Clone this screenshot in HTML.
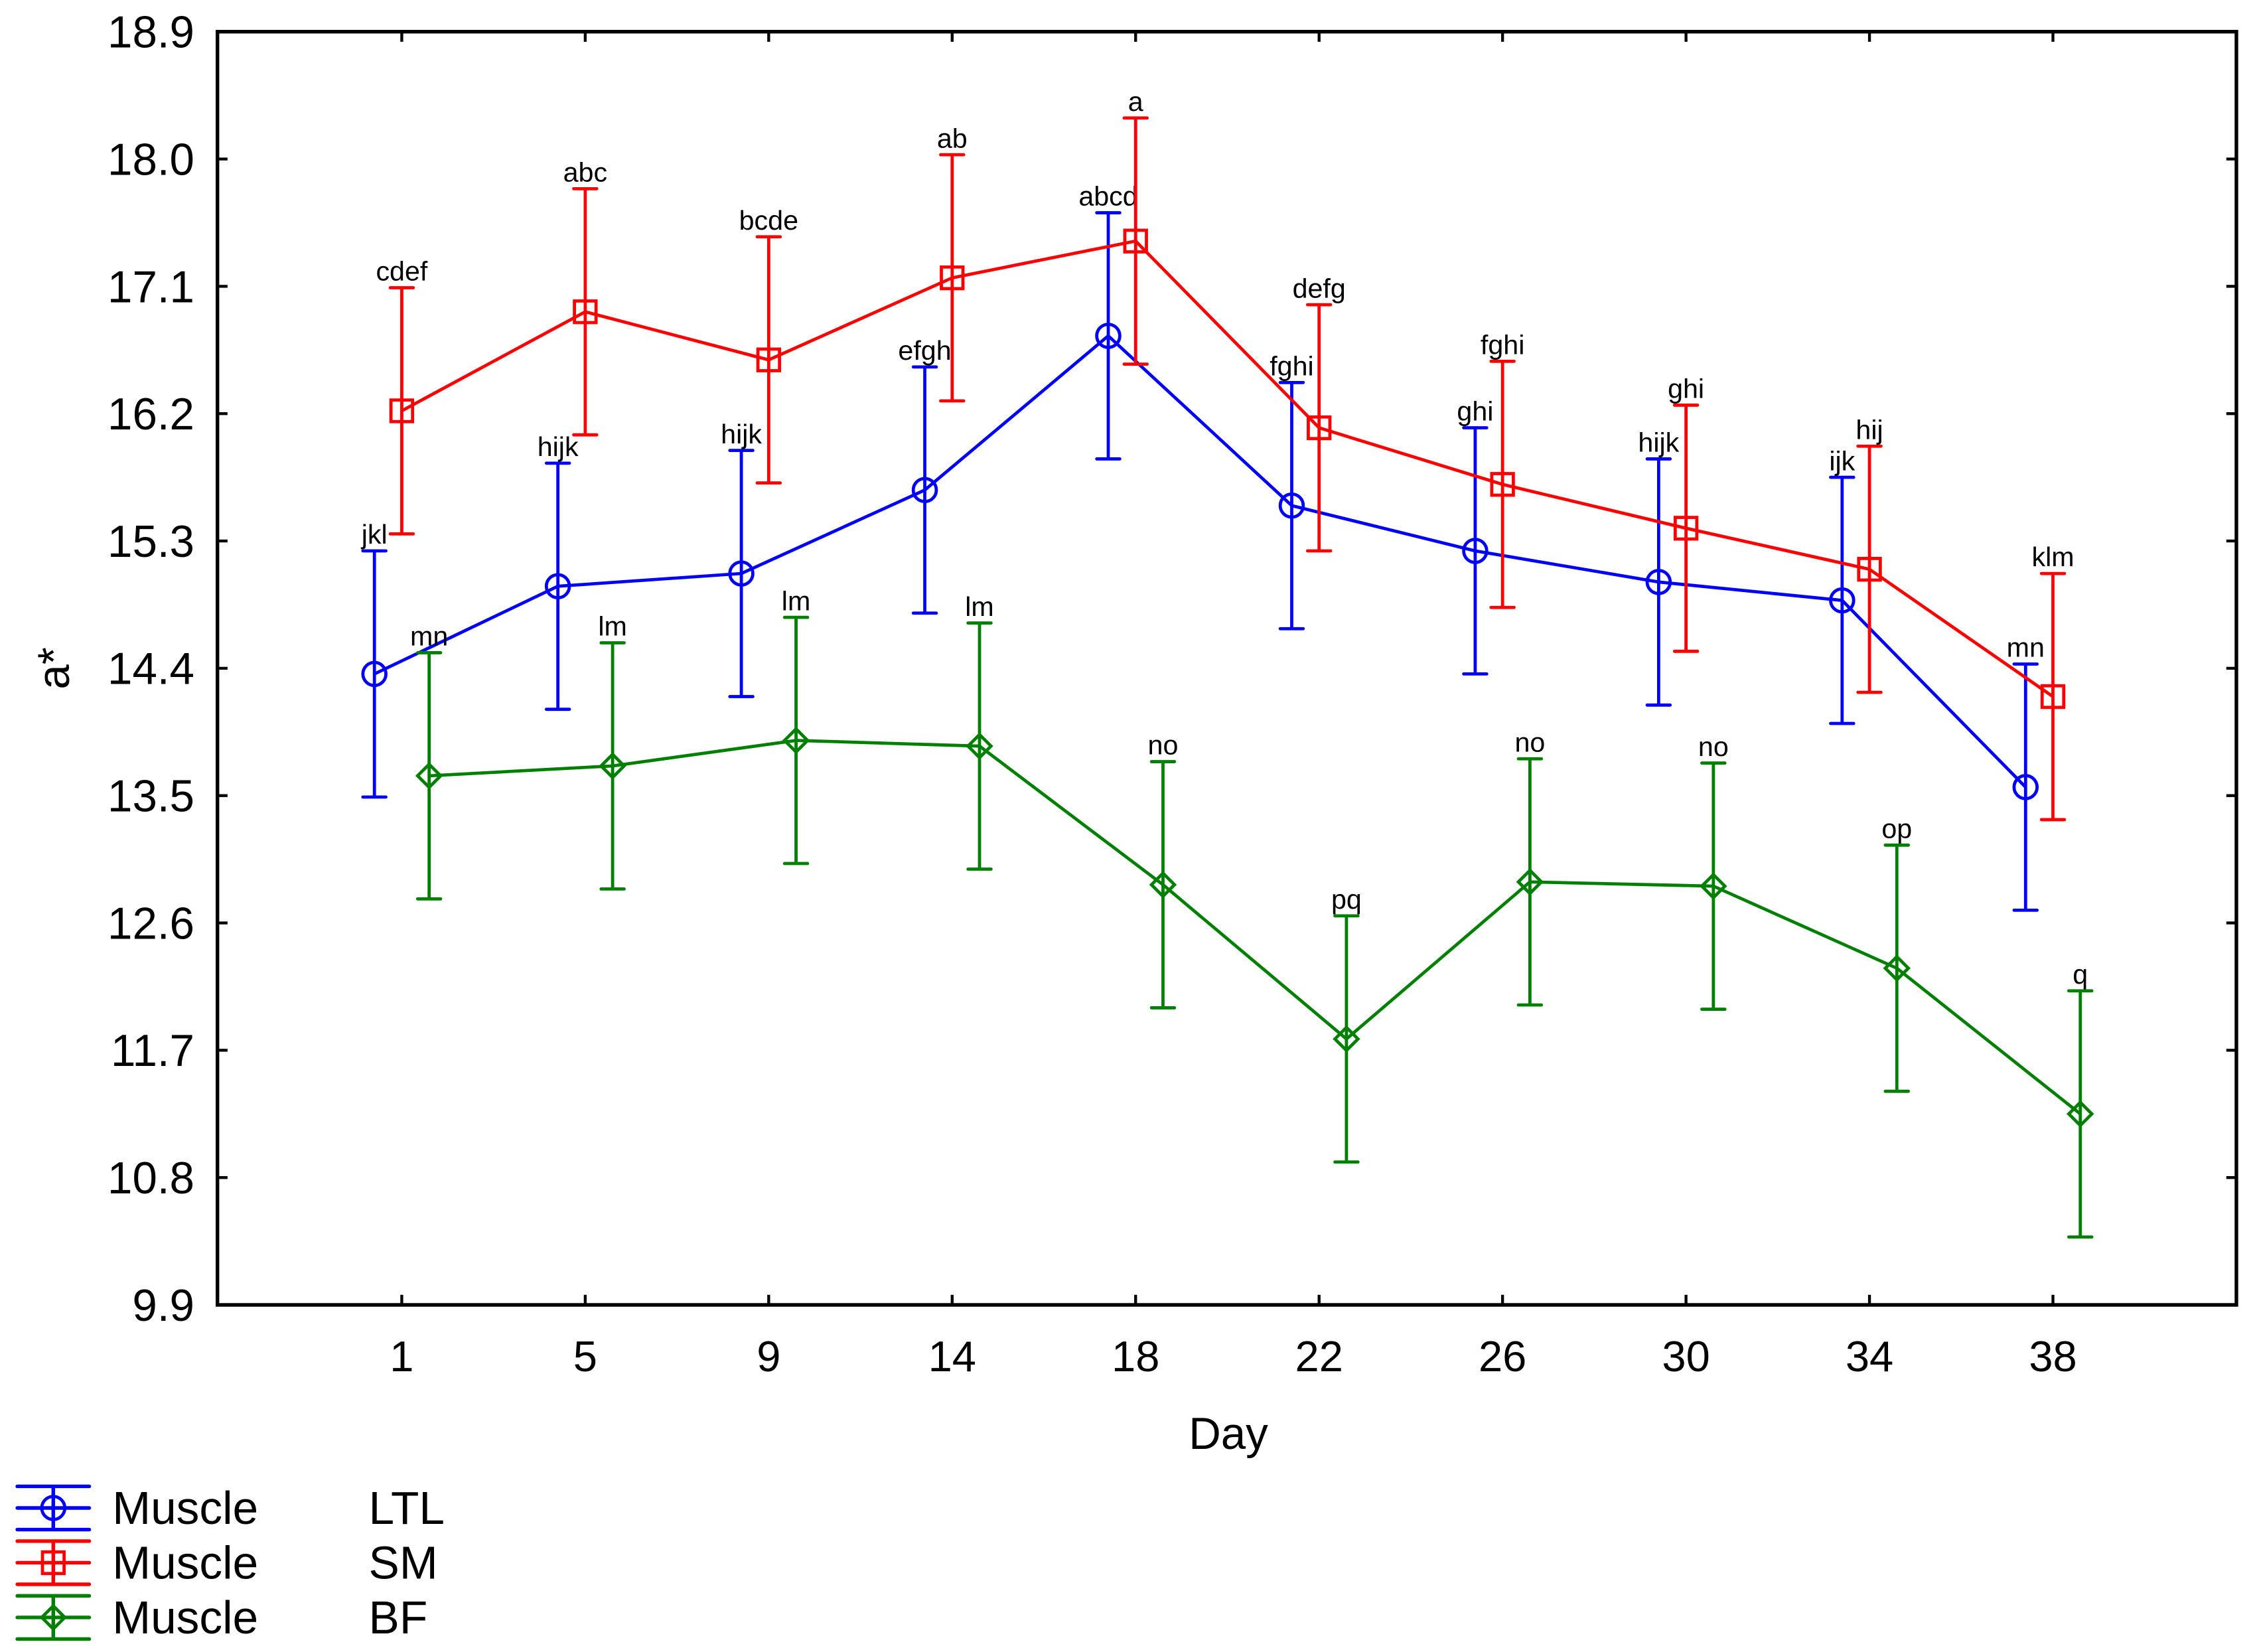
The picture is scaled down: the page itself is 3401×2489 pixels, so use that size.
<!DOCTYPE html>
<html><head><meta charset="utf-8"><style>
html,body{margin:0;padding:0;background:#fff}
svg{display:block}
text{font-family:"Liberation Sans",Arial,sans-serif;fill:#000}
</style></head><body>
<svg id="chart" width="3401" height="2489" viewBox="0 0 1567.3 1147" preserveAspectRatio="none" xmlns="http://www.w3.org/2000/svg">
<rect x="0" y="0" width="1567.3" height="1147" fill="#fff"/>
<g id="axes"></g>
<g id="series"></g>
<g id="legend"></g>
</svg>
<script>
const days = ["1","5","9","14","18","22","26","30","34","38"];
const yTicks = [9.9,10.8,11.7,12.6,13.5,14.4,15.3,16.2,17.1,18.0,18.9];
const ltlValues = [14.36,14.98,15.07,15.66,16.75,15.55,15.23,15.01,14.88,13.56];
const smValues = [16.22,16.92,16.58,17.16,17.42,16.10,15.70,15.39,15.10,14.20];
const bfValues = [13.64,13.71,13.89,13.85,12.87,11.78,12.89,12.86,12.28,11.25];
const ltlErr = [0.87,0.87,0.87,0.87,0.87,0.87,0.87,0.87,0.87,0.87];
const smErr = [0.87,0.87,0.87,0.87,0.87,0.87,0.87,0.87,0.87,0.87];
const bfErr = [0.87,0.87,0.87,0.87,0.87,0.87,0.87,0.87,0.87,0.87];
const ltlLetters = ["jkl","hijk","hijk","efgh","abcd","fghi","ghi","hijk","ijk","mn"];
const smLetters = ["cdef","abc","bcde","ab","a","defg","fghi","ghi","hij","klm"];
const bfLetters = ["mn","lm","lm","lm","no","pq","no","no","op","q"];

const NS="http://www.w3.org/2000/svg";
const L=151,R=1553,T=22,B=906;
const yMin=9.9,yMax=18.9;
function yPos(v){return B-(v-yMin)/(yMax-yMin)*(B-T);}
function xPos(i){return 279+127.4*i;}
function mk(tag,attrs,parent){const e=document.createElementNS(NS,tag);for(const k in attrs)e.setAttribute(k,attrs[k]);parent.appendChild(e);return e;}
const axes=document.getElementById('axes');
const frame=mk('rect',{x:L,y:T,width:R-L,height:B-T,fill:'none',stroke:'#000','stroke-width':2.5},axes);


yTicks.forEach(v=>{
  const y=yPos(v);
  const t1=mk('line',{x1:L,y1:y,x2:L+7,y2:y,stroke:'#000','stroke-width':2},axes);
  
  
  const t2=mk('line',{x1:R-7,y1:y,x2:R,y2:y,stroke:'#000','stroke-width':2},axes);
  
  
  const tx=mk('text',{x:135,y:y+11,'text-anchor':'end','font-size':31},axes);
  tx.textContent=v.toFixed(1);
  
  
});
days.forEach((d,i)=>{
  const x=xPos(i);
  const t1=mk('line',{x1:x,y1:B,x2:x,y2:B-7,stroke:'#000','stroke-width':2},axes);
  
  
  const t2=mk('line',{x1:x,y1:T,x2:x,y2:T+7,stroke:'#000','stroke-width':2},axes);
  
  
  const tx=mk('text',{x:x,y:952,'text-anchor':'middle','font-size':30},axes);
  tx.textContent=d;
  
  
});
const xt=mk('text',{x:853,y:1006,'text-anchor':'middle','font-size':31},axes);
xt.textContent='Day';


const yt=mk('text',{x:0,y:0,'text-anchor':'middle','font-size':31,transform:'translate(48,464) rotate(-90)'},axes);
yt.textContent='a*';



function marker(type,x,y,color,g){
  let m;
  if(type==='circle') m=mk('circle',{cx:x,cy:y,r:8,fill:'none',stroke:color,'stroke-width':2.2},g);
  else if(type==='square') m=mk('rect',{x:x-7.5,y:y-7.5,width:15,height:15,fill:'none',stroke:color,'stroke-width':2.2},g);
  else m=mk('polygon',{points:`${x},${y-8} ${x+8},${y} ${x},${y+8} ${x-8},${y}`,fill:'none',stroke:color,'stroke-width':2.2},g);
  return m;
}
const seriesDefs=[
  {name:'ltl',vals:ltlValues,err:ltlErr,lab:ltlLetters,color:'#0000ff',off:-19,m:'circle'},
  {name:'sm',vals:smValues,err:smErr,lab:smLetters,color:'#ff0000',off:0,m:'square'},
  {name:'bf',vals:bfValues,err:bfErr,lab:bfLetters,color:'#008000',off:19,m:'diamond'}
];
const sg=document.getElementById('series');
seriesDefs.forEach(s=>{
  const g=mk('g',{},sg);
  
  
  const pts=s.vals.map((v,i)=>(xPos(i)+s.off)+','+yPos(v)).join(' ');
  const pl=mk('polyline',{points:pts,fill:'none',stroke:s.color,'stroke-width':2.2},g);
  
  
  s.vals.forEach((v,i)=>{
    const x=xPos(i)+s.off, y=yPos(v), yu=yPos(v+s.err[i]), yl=yPos(v-s.err[i]);
    const eb=mk('path',{d:`M${x},${yu}V${yl}M${x-8},${yu}H${x+8}M${x-8},${yl}H${x+8}`,stroke:s.color,'stroke-width':2.2,fill:'none','stroke-linecap':'round'},g);
    
    
    const mm=marker(s.m,x,y,s.color,g);
    
    
    const t=mk('text',{x:x,y:yu-5,'text-anchor':'middle','font-size':19},g);
    t.textContent=s.lab[i];
    
    
  });
});
const lg=document.getElementById('legend');
const legendNames=['LTL','SM','BF'];
seriesDefs.forEach((s,i)=>{
  const y=1047+38*i;
  const g=mk('g',{},lg);
  
  
  mk('path',{d:`M12,${y-15}H62M12,${y}H62M12,${y+15}H62M37,${y-15}V${y+15}`,stroke:s.color,'stroke-width':2.5,'stroke-linecap':'round',fill:'none'},g);
  marker(s.m,37,y,s.color,g);
  const t1=mk('text',{x:78,y:y+11,'font-size':32},g);
  t1.textContent='Muscle';
  const t2=mk('text',{x:256,y:y+11,'font-size':32},g);
  t2.textContent=legendNames[i];
});
</script>
</body></html>
